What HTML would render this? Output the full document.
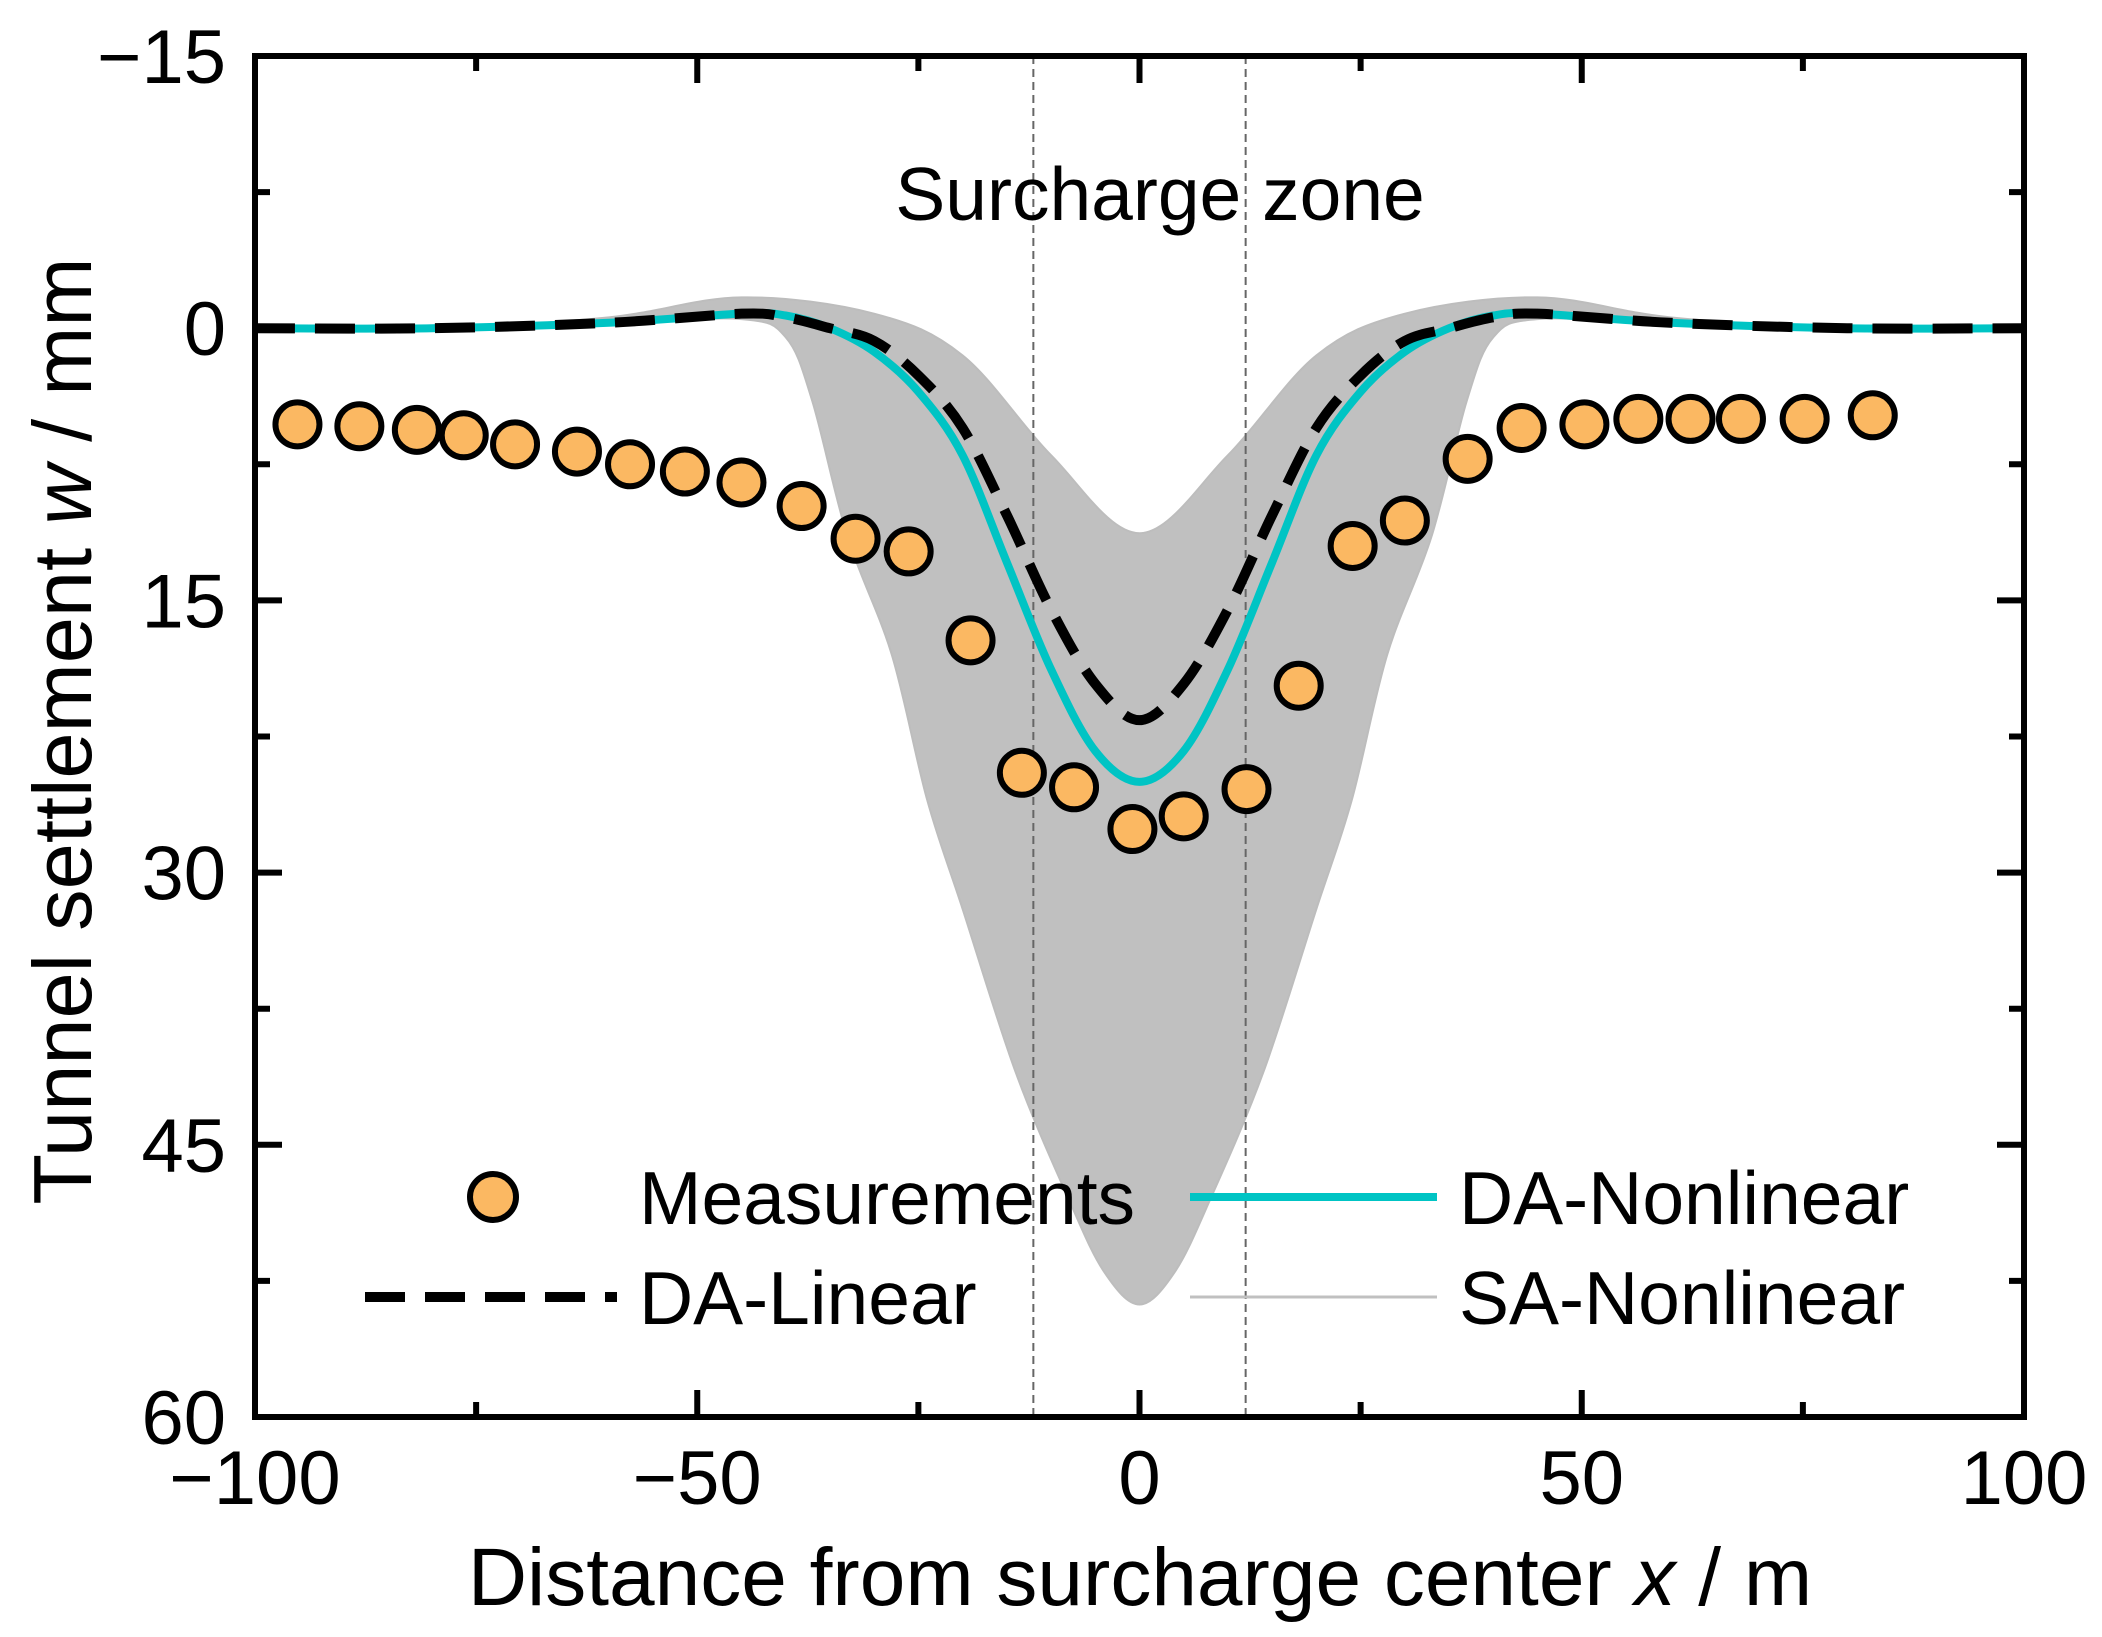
<!DOCTYPE html>
<html><head><meta charset="utf-8"><style>
html,body{margin:0;padding:0;background:#fff;}
svg{display:block;font-family:"Liberation Sans",Arial,sans-serif;}
</style></head><body>
<svg id="chart" width="2102" height="1637" viewBox="0 0 2102 1637">
<g id="band"></g>
<g id="zone"></g>
<g id="series"></g>
<g id="axes"></g>
<g id="legend"></g>
</svg>
<script>
const xTicks=[-100,-50,0,50,100];
const yTicks=[-15,0,15,30,45,60];
const yTickLabels=["\u221215","0","15","30","45","60"];
const xTickLabels=["\u2212100","\u221250","0","50","100"];
const measX=[-95.2,-88.2,-81.7,-76.4,-70.6,-63.6,-57.6,-51.4,-45,-38.2,-32.1,-26.1,-19.1,-13.3,-7.4,-0.8,5,12.1,18,24.1,30,37.1,43.2,50.3,56.4,62.3,68,75.2,82.9];
const measY=[5.3,5.4,5.6,5.9,6.4,6.8,7.5,7.9,8.5,9.8,11.6,12.3,17.2,24.5,25.3,27.6,26.9,25.4,19.7,12,10.6,7.2,5.5,5.3,5,5,5,5,4.8];
const curveX=[-100,-80,-60,-45,-40,-35,-30,-25,-20,-15,-10,-5,0,5,10,15,20,25,30,35,40,45,60,80,100];
const daNonlinearY=[0,0,-0.3,-0.8,-0.7,0,1.3,3.5,7,12.9,18.8,23.3,25,23.3,18.8,12.9,7,3.5,1.3,0,-0.7,-0.8,-0.3,0,0];
const daLinearY=[0,0,-0.3,-0.8,-0.6,0,0.7,2.6,5.5,10.3,15.5,19.6,21.6,19.6,15.5,10.3,5.5,2.6,0.7,0,-0.6,-0.8,-0.3,0,0];
const bandUpperX=[-100,-80,-60,-45,-30,-20,-10,0,10,20,30,45,60,80,100];
const bandUpperY=[0,0,-0.6,-1.7,-0.8,1.5,7,11.3,7,1.5,-0.8,-1.7,-0.6,0,0];
const bandLowerX=[-100,-60,-45,-40,-37,-33,-28,-24,-20,-14,-8,-4,0,4,8,14,20,24,28,33,37,40,45,60,100];
const bandLowerY=[0,-0.3,-0.5,0.5,4,11.5,18,26,32,41,48,52,53.8,52,48,41,32,26,18,11.5,4,0.5,-0.5,-0.3,0];
const zoneBounds=[-12,12];

const X0=255,X1=2024,Y0=56,Y1=1417;
const sx=v=>X0+(v+100)/200*(X1-X0);
const sy=v=>Y0+(v+15)/75*(Y1-Y0);
const NS="http://www.w3.org/2000/svg";
function mk(tag,attrs,parent){const e=document.createElementNS(NS,tag);for(const k in attrs)e.setAttribute(k,attrs[k]);parent.appendChild(e);return e;}
function smoothPath(xs,ys){
  const p=xs.map((x,i)=>[sx(x),sy(ys[i])]);
  let d="M"+p[0][0]+","+p[0][1];
  for(let i=0;i<p.length-1;i++){
    const a=p[Math.max(0,i-1)],b=p[i],c=p[i+1],e=p[Math.min(p.length-1,i+2)];
    const c1=[b[0]+(c[0]-a[0])/6,b[1]+(c[1]-a[1])/6],c2=[c[0]-(e[0]-b[0])/6,c[1]-(e[1]-b[1])/6];
    d+=" C"+c1[0]+","+c1[1]+" "+c2[0]+","+c2[1]+" "+c[0]+","+c[1];
  }
  return d;
}
const band=document.getElementById('band');
const up=smoothPath(bandUpperX,bandUpperY);
const lo=smoothPath(bandLowerX.slice().reverse(),bandLowerY.slice().reverse());
const bp=mk('path',{d:up+" L"+lo.slice(1)+" Z",fill:"#c0c0c0",stroke:"#bdbdbd","stroke-width":2},band);



const zone=document.getElementById('zone');
zoneBounds.forEach(b=>{
  const l=mk('line',{x1:sx(b),x2:sx(b),y1:Y0,y2:Y1,stroke:"#666","stroke-width":2,"stroke-dasharray":"8,5"},zone);
  
  
});
const zt=mk('text',{x:1160,y:220,"font-size":75,"text-anchor":"middle",fill:"#000"},zone);
zt.textContent="Surcharge zone";



const ser=document.getElementById('series');
const cy=mk('path',{d:smoothPath(curveX,daNonlinearY),fill:"none",stroke:"#00c4c4","stroke-width":8},ser);


const bl=mk('path',{d:smoothPath(curveX,daLinearY),fill:"none",stroke:"#000","stroke-width":10,"stroke-dasharray":"40,20"},ser);


measX.forEach((x,i)=>{
  const c=mk('circle',{cx:sx(x),cy:sy(measY[i]),r:22,fill:"#fbb862",stroke:"#000","stroke-width":6},ser);
  
  
});

const ax=document.getElementById('axes');
const fr=mk('rect',{x:X0,y:Y0,width:X1-X0,height:Y1-Y0,fill:"none",stroke:"#000","stroke-width":6},ax);


let td="";
for(let v=-15;v<=60;v+=7.5){const y=sy(v);const L=(Math.abs((v+15)%15)<0.01)?27:15;td+=`M${X0},${y}h${L}M${X1},${y}h${-L}`;}
for(let v=-100;v<=100;v+=25){const x=sx(v);const L=(v%50===0)?27:15;td+=`M${x},${Y1}v${-L}M${x},${Y0}v${L}`;}
const tp=mk('path',{d:td,stroke:"#000","stroke-width":6,fill:"none"},ax);


yTicks.forEach((v,i)=>{
  const t=mk('text',{x:226,y:sy(v)+27,"font-size":76,"text-anchor":"end"},ax);
  t.textContent=yTickLabels[i];
  
  
});
xTicks.forEach((v,i)=>{
  const t=mk('text',{x:sx(v),y:1504,"font-size":76,"text-anchor":"middle"},ax);
  t.textContent=xTickLabels[i];
  
  
});
const xt=mk('text',{x:1140,y:1605,"font-size":82,"text-anchor":"middle"},ax);
xt.innerHTML='Distance from surcharge center <tspan font-style="italic">x</tspan> / m';


const yt=mk('text',{x:0,y:0,"font-size":83,"text-anchor":"middle",transform:"translate(91,731) rotate(-90)"},ax);
yt.innerHTML='Tunnel settlement <tspan font-style="italic">w</tspan> / mm';



const lg=document.getElementById('legend');
const lc=mk('circle',{cx:493,cy:1197,r:23,fill:"#fbb862",stroke:"#000","stroke-width":6},lg);


const l1=mk('line',{x1:1190,x2:1437,y1:1197,y2:1197,stroke:"#00c4c4","stroke-width":8},lg);


const l2=mk('line',{x1:365,x2:617,y1:1297,y2:1297,stroke:"#000","stroke-width":10,"stroke-dasharray":"40,20"},lg);


const l3=mk('line',{x1:1190,x2:1437,y1:1297,y2:1297,stroke:"#c0c0c0","stroke-width":3},lg);


[["Measurements",639,1224],["DA-Nonlinear",1459,1224],["DA-Linear",639,1324],["SA-Nonlinear",1459,1324]].forEach(a=>{
  const t=mk('text',{x:a[1],y:a[2],"font-size":75},lg);
  t.textContent=a[0];
  
  
});
</script>
</body></html>
